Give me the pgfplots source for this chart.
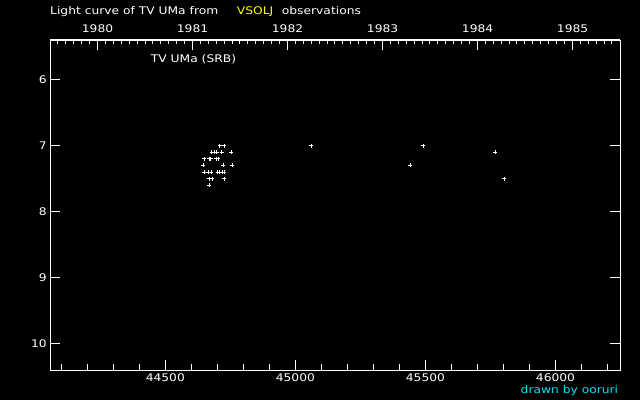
\documentclass[border=0pt]{standalone}
\usepackage{fontspec}
\setmainfont[FakeStretch=1.17]{DejaVu Sans}
\usepackage{pgfplots}
\pgfplotsset{compat=1.18}
\definecolor{vsolj}{rgb}{1,1,0}
\definecolor{drawn}{RGB}{0,230,240}
\newcommand{\pf}{\fontsize{10.5bp}{12bp}\selectfont}
\begin{document}
\begin{tikzpicture}
\fill[black] (-50.2bp,-30bp) rectangle (589.8bp,370bp);
\begin{axis}[
  at={(0,0)}, anchor=south west,
  scale only axis, width=569.8bp, height=330bp,
  xmin=44057.5, xmax=46248, ymin=5.4, ymax=10.4, y dir=reverse,
  axis line style={white, line width=1bp},
  xtick={44500,45000,45500,46000},
  minor xtick={44100,44200,...,46200},
  ytick={6,7,8,9,10},
  scaled x ticks=false,
  xticklabels={44500,45000,45500,46000},
  xtick pos=lower, ytick pos=both, yticklabel pos=left,
  tick align=inside,
  major tick length=10bp, minor tick length=6bp,
  every tick/.style={white, line width=1bp},
  tick label style={white, font=\pf},
  /pgf/number format/assume math mode=true,
  /pgf/number format/1000 sep={},
  clip=false,
]
\addplot[only marks, mark=+, mark size=2bp, white, line width=1bp] coordinates {
(44710,7.0) (44726,7.0)
(44678,7.1) (44688,7.1) (44698,7.1) (44717,7.1) (44753,7.1)
(44649,7.2) (44669,7.2) (44675,7.2) (44695,7.2) (44703,7.2)
(44646,7.3) (44723,7.3) (44758,7.3)
(44650,7.4) (44665,7.4) (44676,7.4) (44701,7.4) (44708,7.4) (44719,7.4) (44727,7.4)
(44668,7.5) (44681,7.5) (44727,7.5)
(44669,7.6)
(45061,7.0) (45442,7.3) (45492,7.0) (45769,7.1) (45803,7.5)
};
\end{axis}
\begin{axis}[
  at={(0,0)}, anchor=south west,
  scale only axis, width=569.8bp, height=330bp,
  xmin=1979.5017, xmax=1985.499, ymin=0, ymax=1,
  hide y axis,
  axis line style={white, line width=1bp},
  xtick={1980,1981,1982,1983,1984,1985},
  xticklabels={1980,1981,1982,1983,1984,1985},
  minor xtick={1979.58333,1979.66667,...,1985.45},
  xtick pos=upper, xticklabel pos=upper,
  tick align=inside,
  major tick length=10bp, minor tick length=4bp,
  every tick/.style={white, line width=1bp},
  tick label style={white, font=\pf},
  xticklabel style={yshift=4bp},
]
\addplot[draw=none] coordinates {(1980,0.5)};
\end{axis}
\node[anchor=base west, inner sep=0, white, font=\pf] at (-0.2bp,355bp) {Light curve of TV UMa from};
\node[anchor=base west, inner sep=0, vsolj, font=\pf] at (186.5bp,355bp) {VSOLJ};
\node[anchor=base west, inner sep=0, white, font=\pf] at (231.5bp,355bp) {observations};
\node[anchor=base west, inner sep=0, white, font=\pf] at (100.5bp,307bp) {TV UMa (SRB)};
\node[anchor=base west, inner sep=0, drawn, font=\pf] at (470.3bp,-23.5bp) {drawn by ooruri};
\pgfresetboundingbox
\path (-50.2bp,-30bp) rectangle (589.8bp,370bp);
\end{tikzpicture}
\end{document}
